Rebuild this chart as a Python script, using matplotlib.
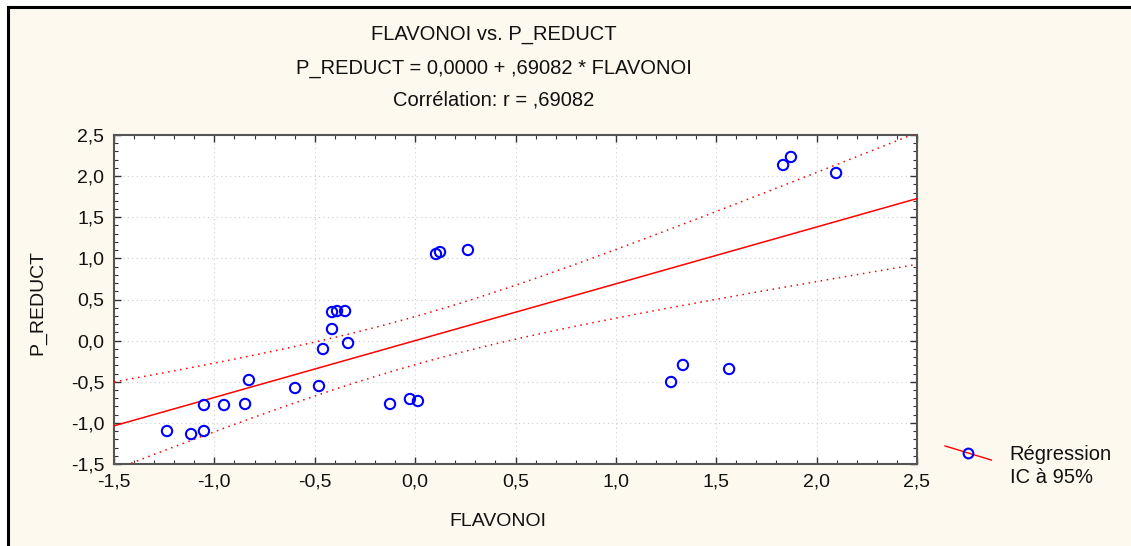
import matplotlib
matplotlib.use("Agg")
import matplotlib.pyplot as plt
import numpy as np
from matplotlib.legend_handler import HandlerLine2D
from matplotlib.lines import Line2D
from matplotlib.ticker import FuncFormatter, MultipleLocator

# values
flavonoi = [-1.236, -1.116, -1.052, -1.052, -0.952, -0.847, -0.828, -0.598, -0.479,
            -0.459, -0.414, -0.414, -0.389, -0.349, -0.334, -0.125, -0.026, 0.014,
            0.104, 0.124, 0.263, 1.275, 1.334, 1.564, 1.833, 1.872, 2.097]
p_reduct = [-1.099, -1.136, -1.099, -0.783, -0.783, -0.770, -0.479, -0.576, -0.552,
            -0.102, 0.141, 0.348, 0.360, 0.360, -0.029, -0.770, -0.710, -0.734,
            1.053, 1.077, 1.102, -0.503, -0.296, -0.345, 2.135, 2.233, 2.038]
intercept = 0.0
slope = 0.69082
r = 0.69082
t_crit = 2.0595  # t(25), 97.5%

x_ticks = [-1.5, -1.0, -0.5, 0.0, 0.5, 1.0, 1.5, 2.0, 2.5]
y_ticks = [-1.5, -1.0, -0.5, 0.0, 0.5, 1.0, 1.5, 2.0, 2.5]

BG = "#fdf9ef"
TXT = "#111111"


class SlopedHandler(HandlerLine2D):
    def create_artists(self, legend, orig_handle, xdescent, ydescent, width, height, fontsize, trans):
        x0, x1 = -xdescent, -xdescent + width
        yc = height / 2 - ydescent
        line = Line2D([x0, x1], [yc + height * 0.5, yc - height * 0.5], color="red", lw=1, transform=trans)
        mk = Line2D([(x0 + x1) / 2], [yc], marker="o", ms=7, mfc="none", mec="blue", mew=1.5,
                    linestyle="none", transform=trans)
        return [line, mk]


plt.rcParams["font.family"] = ["Liberation Sans", "DejaVu Sans"]

fig = plt.figure(figsize=(11.31, 5.46), dpi=100, facecolor="white")
fig.patches.append(plt.Rectangle((8 / 1131, 0), 1 - 8 / 1131, 1 - 8 / 546, transform=fig.transFigure,
                                 facecolor=BG, edgecolor="none", zorder=-10))
fig.add_artist(Line2D([8 / 1131, 1], [1 - 7 / 546, 1 - 7 / 546], color="black", lw=2.2))
fig.add_artist(Line2D([8 / 1131, 8 / 1131], [0, 1 - 7 / 546], color="black", lw=2.2))

ax = fig.add_axes([114 / 1131, 1 - 464 / 546, (917 - 114) / 1131, (464 - 135) / 546])
ax.set_facecolor("white")

x = np.array(flavonoi)
y = np.array(p_reduct)
n = len(x)

xs = np.linspace(x_ticks[0], x_ticks[-1], 200)
fit = intercept + slope * xs
s = np.sqrt((1 - r ** 2) * (n - 1) / (n - 2))
se = s * np.sqrt(1 / n + xs ** 2 / (n - 1))

ax.plot(xs, fit, color="red", lw=1.1, zorder=3)
ax.plot(xs, fit + t_crit * se, color="red", lw=1.1, linestyle=(0, (1, 3)), zorder=3)
ax.plot(xs, fit - t_crit * se, color="red", lw=1.1, linestyle=(0, (1, 3)), zorder=3)
ax.scatter(x, y, s=55, facecolors="none", edgecolors="blue", linewidths=1.5, zorder=4)

ax.set_xlim(x_ticks[0], x_ticks[-1])
ax.set_ylim(y_ticks[0], y_ticks[-1])
ax.xaxis.set_major_locator(MultipleLocator(0.5))
ax.yaxis.set_major_locator(MultipleLocator(0.5))
ax.xaxis.set_minor_locator(MultipleLocator(0.1))
ax.yaxis.set_minor_locator(MultipleLocator(0.1))
fmt = FuncFormatter(lambda v, p: f"{v:.1f}".replace(".", ",").replace("-0,0", "0,0"))
ax.xaxis.set_major_formatter(fmt)
ax.yaxis.set_major_formatter(fmt)
ax.tick_params(which="both", direction="in", top=True, right=True, color="#333333",
               labelsize=14, labelcolor=TXT)
ax.tick_params(which="major", length=5, width=1, pad=7)
ax.tick_params(which="minor", length=3, width=0.8)
ax.grid(True, which="major", color="#cccccc", linestyle=(0, (1, 3)), lw=0.8)
for sp in ax.spines.values():
    sp.set_color("#555555")
    sp.set_linewidth(1.5)

ax.set_xlabel("FLAVONOI", fontsize=14, color=TXT)
ax.xaxis.set_label_coords((498 - 114) / 803, -(522 - 464) / 329, transform=ax.transAxes)
ax.xaxis.label.set_va("center")
ax.set_ylabel("P_REDUCT", fontsize=14, color=TXT)
ax.yaxis.set_label_coords(-(114 - 38) / 803, 0.49, transform=ax.transAxes)
ax.yaxis.label.set_va("center")

title_font = ["Liberation Sans Narrow", "Liberation Sans", "DejaVu Sans"]
title_lines = ["FLAVONOI vs. P_REDUCT", "P_REDUCT = 0,0000 + ,69082 * FLAVONOI", "Corrélation: r = ,69082"]
for row, txt in zip([35, 68, 100], title_lines):
    fig.text(494 / 1131, 1 - row / 546, txt, ha="center", va="center",
             fontsize=14.5, family=title_font, color=TXT)

handle = Line2D([], [], color="red", marker="o", mfc="none", mec="blue")
blank = Line2D([], [], color="none")
fig.legend([handle, blank], ["Régression", "IC à 95%"],
           handler_map={handle: SlopedHandler(), blank: HandlerLine2D()},
           loc="upper left", bbox_to_anchor=(937 / 1131, 1 - 437 / 546), frameon=False,
           fontsize=14.5, handlelength=2.3, handletextpad=0.9, labelspacing=0.2,
           borderaxespad=0, labelcolor=TXT)

fig.savefig("out.png", dpi=100, facecolor="white")
